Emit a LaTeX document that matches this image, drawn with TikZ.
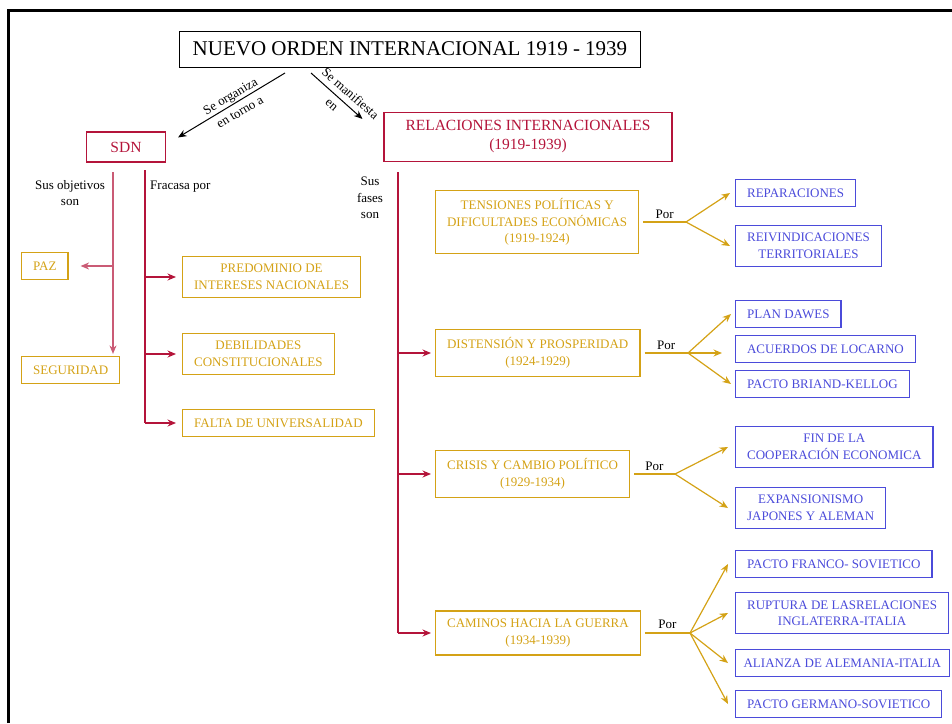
\documentclass[tikz,border=0pt]{standalone}
\usepackage{fontspec}
\setmainfont{Liberation Serif}
\usetikzlibrary{arrows.meta}

\definecolor{sdnred}{RGB}{180,20,58}
\definecolor{fasegold}{RGB}{212,162,22}
\definecolor{causablue}{RGB}{75,75,218}

\begin{document}
\begin{tikzpicture}[x=1pt, y=-1pt, >={Stealth[length=8.5pt,width=7pt]},
    every node/.style={font=\fontsize{13}{16.5}\selectfont, align=center},
    redbox/.style={draw=sdnred, text=sdnred, line width=1.1pt, font=\fontsize{15.5}{19}\selectfont, inner sep=0pt},
    goldbox/.style={draw=fasegold, text=fasegold, line width=1.2pt, anchor=west, inner xsep=11.5pt, inner ysep=8pt, minimum height=27pt},
    bluebox/.style={draw=causablue, text=causablue, line width=1.2pt, anchor=west, inner xsep=11.5pt, inner ysep=8pt, minimum height=27pt},
    redline/.style={sdnred, line width=1.3pt},
    objline/.style={sdnred!70, line width=1.3pt},
    goldline/.style={fasegold, line width=1.2pt},
    tag/.style={inner sep=1pt}]

  \useasboundingbox (0,0) rectangle (952,723);
  % marco
  \draw[line width=3pt] (8.5,723) -- (8.5,10.5) -- (952,10.5);

  % titulo
  \node[draw, line width=0.8pt, font=\fontsize{21}{24}\selectfont, inner xsep=13pt, minimum height=36pt] (orden) at (410,49) {NUEVO ORDEN INTERNACIONAL 1919 - 1939};
  \node[redbox, minimum width=79pt, minimum height=30pt] (sdn) at (126,147) {SDN};
  \node[redbox, minimum width=288pt, minimum height=49pt] (relaciones) at (528,137) {RELACIONES INTERNACIONALES\\(1919-1939)};

  \coordinate (organiza) at (285,73);
  \coordinate (manifiesta) at (311,73);
  \draw[->, line width=1pt] (organiza) -- ([xshift=12pt,yshift=-6pt]sdn.north east);
  \draw[->, line width=1pt] (manifiesta) -- ([xshift=-21pt,yshift=-7pt]relaciones.north west);
  \node[tag, rotate=31, font=\fontsize{13}{18.5}\selectfont] (lblorganiza) at (235,104) {Se organiza\\en torno a};
  \node[tag, rotate=-41, font=\fontsize{13}{20}\selectfont] (lblmanifiesta) at (344,101) {Se manifiesta\\en\hspace*{14pt}};

  % SDN
  \node[goldbox] (paz) at (21,266) {PAZ};
  \node[goldbox] (seguridad) at (21,370) {SEGURIDAD};
  \node[goldbox] (predominio) at (182,277) {PREDOMINIO DE\\INTERESES NACIONALES};
  \node[goldbox] (debilidades) at (182,354) {DEBILIDADES\\CONSTITUCIONALES};
  \node[goldbox] (falta) at (182,423) {FALTA DE UNIVERSALIDAD};

  \node[tag] (lblobjetivos) at (70,193) {Sus objetivos\\son};
  \node[tag, anchor=west] (lblfracasa) at (149,187) {Fracasa por};

  \coordinate (objetivos) at (113,172);
  \draw[objline, ->, shorten >=2pt] (objetivos) -- (objetivos |- seguridad.north);
  \draw[objline, ->, shorten >=12pt] (objetivos |- paz.east) -- (paz.east);

  \coordinate (fracasa) at (145,170);
  \draw[redline] (fracasa) -- (fracasa |- falta.west);
  \foreach \n in {predominio, debilidades, falta}
    \draw[redline, ->, shorten >=6pt] (fracasa |- \n.west) -- (\n.west);

  % fases
  \node[goldbox] (tensiones) at (435,222) {TENSIONES POLÍTICAS Y\\DIFICULTADES ECONÓMICAS\\(1919-1924)};
  \node[goldbox] (distension) at (435,353) {DISTENSIÓN Y PROSPERIDAD\\(1924-1929)};
  \node[goldbox] (crisis) at (435,474) {CRISIS Y CAMBIO POLÍTICO\\(1929-1934)};
  \node[goldbox] (caminos) at (435,633) {CAMINOS HACIA LA GUERRA\\(1934-1939)};

  \node[tag] (lblfases) at (370,198) {Sus\\fases\\son};

  \coordinate (fases) at (398,172);
  \draw[redline] (fases) -- (fases |- caminos.west);
  \foreach \n in {distension, crisis, caminos}
    \draw[redline, ->, shorten >=4pt] (fases |- \n.west) -- (\n.west);

  % causas
  \node[bluebox] (reparaciones) at (735,193) {REPARACIONES};
  \node[bluebox] (reivindicaciones) at (735,246) {REIVINDICACIONES\\TERRITORIALES};
  \node[bluebox] (dawes) at (735,314) {PLAN DAWES};
  \node[bluebox] (locarno) at (735,349) {ACUERDOS DE LOCARNO};
  \node[bluebox] (briand) at (735,384) {PACTO BRIAND-KELLOG};
  \node[bluebox] (cooperacion) at (735,447) {FIN DE LA\\COOPERACIÓN ECONOMICA};
  \node[bluebox] (expansionismo) at (735,508) {EXPANSIONISMO\\JAPONES Y ALEMAN};
  \node[bluebox] (franco) at (735,564) {PACTO FRANCO- SOVIETICO};
  \node[bluebox] (ruptura) at (735,613) {RUPTURA DE LASRELACIONES\\INGLATERRA-ITALIA};
  \node[bluebox, inner xsep=8pt] (alianza) at (735,663) {ALIANZA DE ALEMANIA-ITALIA};
  \node[bluebox] (germano) at (735,704) {PACTO GERMANO-SOVIETICO};

  % Por
  \coordinate (por1) at (686,222);
  \coordinate (por2) at (688,353);
  \coordinate (por3) at (675,474);
  \coordinate (por4) at (690,633);

  \draw[goldline] ([xshift=4pt]tensiones.east |- por1) -- (por1) node[tag, midway, above=2pt, text=black] {Por};
  \foreach \n in {reparaciones, reivindicaciones}
    \draw[goldline, ->] (por1) -- ([xshift=-5pt]\n.west);

  \draw[goldline] ([xshift=4pt]distension.east |- por2) -- (por2) node[tag, midway, above=2pt, text=black] {Por};
  \coordinate (locarnotip) at ([xshift=-13pt]locarno.west);
  \foreach \n in {dawes, briand}
    \draw[goldline, ->] (por2) -- ([xshift=-4pt]\n.west);
  \draw[goldline, ->] (por2) -- (por2 -| locarnotip);

  \draw[goldline] ([xshift=4pt]crisis.east |- por3) -- (por3) node[tag, midway, above=2pt, text=black] {Por};
  \foreach \n in {cooperacion, expansionismo}
    \draw[goldline, ->] (por3) -- ([xshift=-7pt]\n.west);

  \draw[goldline, line width=2pt] ([xshift=4pt]caminos.east |- por4) -- (por4) node[tag, midway, above=2pt, text=black] {Por};
  \foreach \n in {franco, ruptura, alianza, germano}
    \draw[goldline, ->] (por4) -- ([xshift=-7pt]\n.west);
\end{tikzpicture}
\end{document}
